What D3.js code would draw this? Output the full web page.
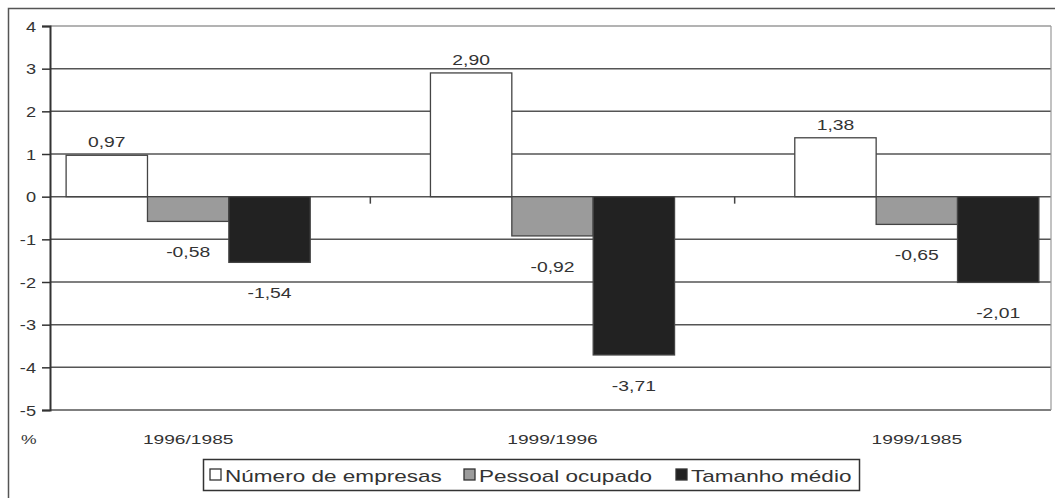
<!DOCTYPE html>
<html><head><meta charset="utf-8">
<script src="https://cdn.jsdelivr.net/npm/d3@7"></script>
<style>
body{margin:0;background:#fff;}
text{font-family:"Liberation Sans",Arial,sans-serif;fill:#333;}
</style></head>
<body>
<svg id="chart" width="1055" height="498"></svg>
<script>
const categories = ["1996/1985", "1999/1996", "1999/1985"];
const seriesNames = ["Número de empresas", "Pessoal ocupado", "Tamanho médio"];
const numeroEmpresas = [0.97, 2.90, 1.38];
const pessoalOcupado = [-0.58, -0.92, -0.65];
const tamanhoMedio = [-1.54, -3.71, -2.01];
const yTicks = [4, 3, 2, 1, 0, -1, -2, -3, -4, -5];
const seriesValues = [numeroEmpresas, pessoalOcupado, tamanhoMedio];
const fills = ["#ffffff", "#9b9b9b", "#222222"];

const svg = d3.select("#chart");
const plot = {left: 50, right: 1051, top: 26, bottom: 410};
const stretch = (sel, sx) => sel.attr("transform", function() {
  const t = d3.select(this);
  const x = +t.attr("data-x"), y = +t.attr("data-y");
  return `translate(${x},${y}) scale(${sx},1)`;
});

// outer frame
svg.append("rect").attr("x", 8.5).attr("y", 8.5).attr("width", 1060).attr("height", 500)
  .attr("fill", "none").attr("stroke", "#555").attr("stroke-width", 1.5);

const y = d3.scaleLinear().domain([-5, 4]).range([plot.bottom, plot.top]);
const x = d3.scaleBand().domain(categories).range([6, 1099]).paddingInner(0.33).paddingOuter(0.165);
const xs = d3.scaleBand().domain(d3.range(seriesNames.length)).range([0, x.bandwidth()]);

// gridlines
svg.append("g").selectAll("line").data(yTicks).join("line")
  .attr("x1", plot.left).attr("x2", plot.right)
  .attr("y1", d => y(d)).attr("y2", d => y(d))
  .attr("stroke", d => d === 4 ? "#9a9a9a" : "#555").attr("stroke-width", 1.5);

// right border
svg.append("line").attr("x1", plot.right).attr("x2", plot.right).attr("y1", y(4)).attr("y2", y(-5))
  .attr("stroke", "#999").attr("stroke-width", 1.2);

// bars
const data = [];
categories.forEach((c, i) => seriesValues.forEach((s, j) => data.push({c, j, v: s[i]})));
svg.append("g").selectAll("rect").data(data).join("rect")
  .attr("x", d => x(d.c) + xs(d.j))
  .attr("width", xs.bandwidth())
  .attr("y", d => y(Math.max(0, d.v)))
  .attr("height", d => Math.abs(y(d.v) - y(0)))
  .attr("fill", d => fills[d.j]).attr("stroke", "#444").attr("stroke-width", 1.3);

// value labels
const fmt = v => d3.format(".2f")(v).replace(".", ",").replace("−", "-");
svg.append("g").selectAll("text").data(data).join("text")
  .attr("data-x", d => x(d.c) + xs(d.j) + xs.bandwidth() / 2)
  .attr("data-y", d => d.v >= 0 ? y(d.v) - 8 : y(d.v) + 36)
  .attr("text-anchor", "middle").attr("font-size", 14)
  .text(d => fmt(d.v))
  .call(stretch, 1.38);

// y axis
const yAxis = d3.axisLeft(y).tickValues(yTicks).tickSize(8).tickFormat(d => d);
const ya = svg.append("g").attr("transform", `translate(${plot.left},0)`).call(yAxis);
ya.select(".domain").attr("stroke", "#333").attr("stroke-width", 2);
ya.selectAll(".tick line").attr("stroke", "#333").attr("stroke-width", 1.5);
ya.selectAll(".tick text").attr("font-size", 14).attr("fill", "#333")
  .style("font-family", '"Liberation Sans",Arial,sans-serif')
  .attr("x", null).attr("dy", null)
  .attr("data-x", -14).attr("data-y", 5)
  .call(stretch, 1.3);

// x category ticks at band boundaries
const boundaries = categories.slice(1).map(c => x(c) - x.step() * x.paddingInner() / 2);
svg.append("g").selectAll("line").data(boundaries).join("line")
  .attr("x1", d => d).attr("x2", d => d).attr("y1", y(0)).attr("y2", y(0) + 7)
  .attr("stroke", "#444").attr("stroke-width", 1.5);

// x category labels
svg.append("g").selectAll("text").data(categories).join("text")
  .attr("data-x", d => x(d) + x.bandwidth() / 2).attr("data-y", 444)
  .attr("text-anchor", "middle").attr("font-size", 13.5).text(d => d)
  .call(stretch, 1.42);

svg.append("text").attr("data-x", 21).attr("data-y", 444).attr("font-size", 13.5).text("%")
  .call(stretch, 1.3);

// legend
const lg = svg.append("g");
lg.append("rect").attr("x", 203.5).attr("y", 459.5).attr("width", 656).attr("height", 31)
  .attr("fill", "#fff").attr("stroke", "#333").attr("stroke-width", 1.5);
const legendX = [210, 464, 676];
seriesNames.forEach((n, j) => {
  lg.append("rect").attr("x", legendX[j]).attr("y", 469).attr("width", 11).attr("height", 11)
    .attr("fill", fills[j]).attr("stroke", "#333").attr("stroke-width", 1.3);
  lg.append("text").attr("data-x", legendX[j] + 15).attr("data-y", 482).attr("font-size", 16).text(n)
    .call(stretch, 1.41);
});
</script>
</body></html>
